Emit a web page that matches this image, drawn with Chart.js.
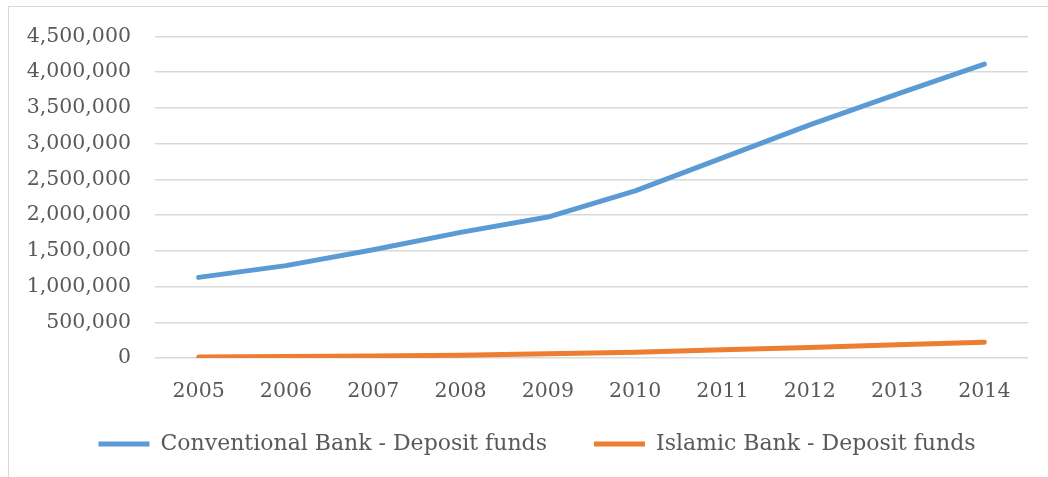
<!DOCTYPE html>
<html>
<head>
<meta charset="utf-8">
<script src="https://cdn.jsdelivr.net/npm/chart.js@4.4.0/dist/chart.umd.min.js"></script>
<style>
  html, body { margin: 0; padding: 0; background: #fff; overflow: hidden; }
  #frame {
    position: absolute; left: 8px; top: 6px; width: 1100px; height: 520px;
    border: 1px solid #d9d9d9; box-sizing: border-box;
  }
  #wrap { position: absolute; left: 0; top: 0; width: 1048px; height: 477px; }
</style>
</head>
<body>
<div id="frame"></div>
<div id="wrap"><canvas id="depositChart"></canvas></div>
<script>
// Deposit funds, conventional vs islamic banks
const years = ['2005', '2006', '2007', '2008', '2009', '2010', '2011', '2012', '2013', '2014'];
const conventionalDeposits = [1128000, 1292000, 1515000, 1757000, 1972000, 2338000, 2800000, 3262000, 3690000, 4112000];
const islamicDeposits = [14000, 20000, 28000, 40000, 58000, 82000, 115000, 148000, 185000, 222000];
const yMax = 4500000;
const yStep = 500000;

const textColor = '#595959';
const fontFamily = '"DejaVu Serif", "Liberation Serif", serif';

// legend keeps its wide item gap but sits a bit higher and right
const legendNudge = {
    id: 'legendNudge',
    afterLayout(chart) {
        const lg = chart.legend;
        lg.top -= 12; lg.bottom -= 12;
        lg.left += 23; lg.right += 23;
    }
};

const ctx = document.getElementById('depositChart').getContext('2d');
const depositChart = new Chart(ctx, {
    type: 'line',
    data: {
        labels: years,
        datasets: [{
            label: 'Conventional Bank - Deposit funds',
            data: conventionalDeposits,
            borderColor: '#5b9bd5',
            backgroundColor: '#5b9bd5',
            borderWidth: 5,
            borderCapStyle: 'round',
            borderJoinStyle: 'round',
            pointRadius: 0,
            tension: 0,
            fill: false
        }, {
            label: 'Islamic Bank - Deposit funds',
            data: islamicDeposits,
            borderColor: '#ed7d31',
            backgroundColor: '#ed7d31',
            borderWidth: 5,
            borderCapStyle: 'round',
            borderJoinStyle: 'round',
            pointRadius: 0,
            tension: 0,
            fill: false
        }]
    },
    options: {
        responsive: true,
        maintainAspectRatio: false,
        animation: false,
        layout: {
            padding: { left: 0, right: 20, top: 35, bottom: 0 }
        },
        plugins: {
            tooltip: { enabled: false },
            legend: {
                position: 'bottom',
                labels: {
                    usePointStyle: true,
                    pointStyle: 'line',
                    pointStyleWidth: 51,
                    boxHeight: 5,
                    padding: 47,
                    color: textColor,
                    font: { family: fontFamily, size: 22 }
                }
            }
        },
        scales: {
            x: {
                offset: true,
                grid: { display: false },
                border: { display: false },
                ticks: {
                    padding: 13,
                    color: textColor,
                    font: { family: fontFamily, size: 20.5 }
                },
                afterFit: (scale) => { scale.height = 40; }
            },
            y: {
                min: 0,
                max: yMax,
                grid: { color: '#d9d9d9', lineWidth: 1.5, drawTicks: false },
                border: { display: false },
                ticks: {
                    stepSize: yStep,
                    padding: 24,
                    color: textColor,
                    font: { family: fontFamily, size: 20.5 },
                    callback: (v) => v.toLocaleString('en-US')
                },
                afterFit: (scale) => { scale.width = 155; }
            }
        }
    },
    plugins: [legendNudge]
});
</script>
</body>
</html>
